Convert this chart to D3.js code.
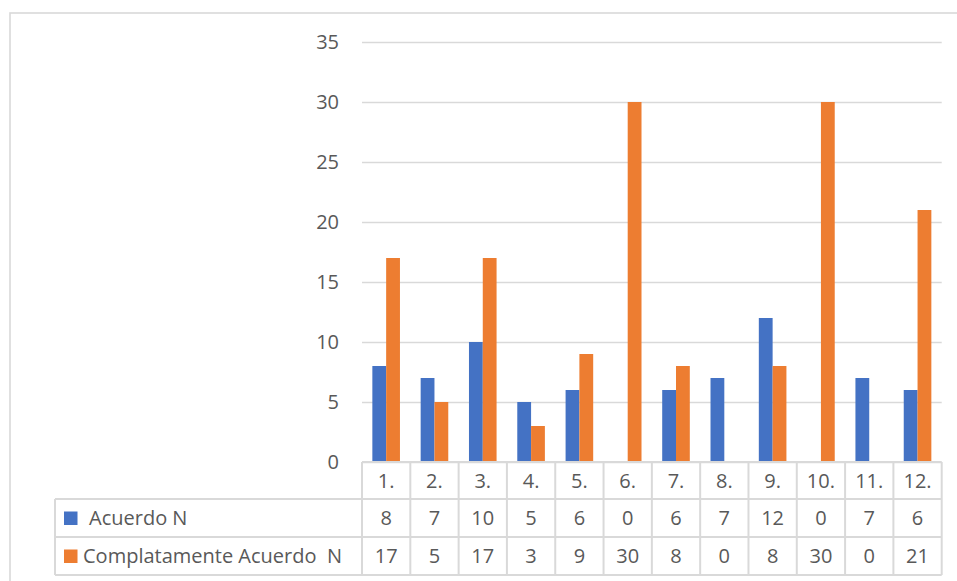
<!DOCTYPE html>
<html>
<head>
<meta charset="utf-8">
<script src="https://cdn.jsdelivr.net/npm/d3@7"></script>
<style>
  html, body { margin: 0; padding: 0; background: #fff; }
  svg { display: block; }
  text { font-family: "Open Sans", Lato, sans-serif; fill: #595959; }
</style>
</head>
<body>
<svg id="chart" width="957" height="581"></svg>
<script>
// Item labels along the category axis
const categories = ["1.", "2.", "3.", "4.", "5.", "6.", "7.", "8.", "9.", "10.", "11.", "12."];
// Series names and counts per item
const seriesNames = ["Acuerdo N", "Complatamente Acuerdo  N"];
const acuerdo = [8, 7, 10, 5, 6, 0, 6, 7, 12, 0, 7, 6];
const completamente = [17, 5, 17, 3, 9, 30, 8, 0, 8, 30, 0, 21];
const yTicks = [0, 5, 10, 15, 20, 25, 30, 35];
const colors = ["#4472C4", "#ED7D31"];

const series = [acuerdo, completamente];

const svg = d3.select("#chart");
const gridColor = "#d9d9d9";
const fontSize = 20;

// Outer chart frame
svg.append("rect")
  .attr("x", 10).attr("y", 13)
  .attr("width", 980).attr("height", 600)
  .attr("fill", "none")
  .attr("stroke", gridColor)
  .attr("stroke-width", 1.6);

const plotLeft = 362, plotRight = 941.7, plotTop = 42, plotBottom = 462;

const x = d3.scaleBand().domain(categories).range([plotLeft, plotRight]).paddingInner(0).paddingOuter(0);
const x1 = d3.scaleBand().domain([0, 1]).range([0, x.bandwidth()]).paddingInner(0).paddingOuter(0.75);
const y = d3.scaleLinear().domain([0, 35]).range([plotBottom, plotTop]);

// Horizontal gridlines and value labels on the left axis
const yAxis = d3.axisLeft(y).tickValues(yTicks).tickSize(-(plotRight - plotLeft)).tickPadding(23).tickFormat(d3.format("d"));
const yG = svg.append("g").attr("transform", `translate(${plotLeft},0)`).call(yAxis);
yG.select(".domain").remove();
yG.selectAll(".tick line").attr("stroke", gridColor).attr("stroke-width", 1.3);
yG.selectAll(".tick text")
  .attr("font-size", fontSize)
  .style("font-family", '"Open Sans", Lato, sans-serif')
  .attr("fill", "#595959");

// Bars
const groups = svg.append("g").selectAll("g")
  .data(categories)
  .join("g")
  .attr("transform", d => `translate(${x(d)},0)`);

groups.selectAll("rect")
  .data((d, i) => series.map((s, k) => ({ k, v: s[i] })))
  .join("rect")
  .attr("x", d => x1(d.k))
  .attr("width", x1.bandwidth())
  .attr("y", d => y(d.v))
  .attr("height", d => y(0) - y(d.v))
  .attr("fill", d => colors[d.k]);

// Data table under the plot
const rowTop = [462, 499, 537, 575];
const tableLeft = 55;
const t = svg.append("g");

// horizontal rules
t.append("line").attr("x1", plotLeft).attr("x2", plotRight).attr("y1", rowTop[0]).attr("y2", rowTop[0]);
[1, 2, 3].forEach(r => {
  t.append("line").attr("x1", tableLeft).attr("x2", plotRight).attr("y1", rowTop[r]).attr("y2", rowTop[r]);
});
// vertical rules
const bounds = categories.map(c => x(c)).concat([plotRight]);
bounds.forEach(bx => {
  t.append("line").attr("x1", bx).attr("x2", bx).attr("y1", rowTop[0]).attr("y2", rowTop[3]);
});
t.append("line").attr("x1", tableLeft).attr("x2", tableLeft).attr("y1", rowTop[1]).attr("y2", rowTop[3]);
t.selectAll("line").attr("stroke", gridColor).attr("stroke-width", 2);

// category header cells
t.selectAll("text.cat")
  .data(categories)
  .join("text")
  .attr("class", "cat")
  .attr("x", d => x(d) + x.bandwidth() / 2)
  .attr("y", (rowTop[0] + rowTop[1]) / 2)
  .attr("dy", "0.35em")
  .attr("text-anchor", "middle")
  .attr("font-size", fontSize)
  .text(d => d);

// value cells
series.forEach((s, k) => {
  const cy = (rowTop[k + 1] + rowTop[k + 2]) / 2;
  t.selectAll(`text.val${k}`)
    .data(s)
    .join("text")
    .attr("class", `val${k}`)
    .attr("x", (d, i) => x(categories[i]) + x.bandwidth() / 2)
    .attr("y", cy)
    .attr("dy", "0.35em")
    .attr("text-anchor", "middle")
    .attr("font-size", fontSize)
    .text(d => d);

  // legend key and series name
  t.append("rect")
    .attr("x", 64).attr("y", cy - 6.5)
    .attr("width", 13.5).attr("height", 13.5)
    .attr("fill", colors[k]);
  t.append("text")
    .attr("x", k === 0 ? 89 : 83)
    .attr("y", cy)
    .attr("dy", "0.35em")
    .attr("font-size", fontSize)
    .style("white-space", "pre")
    .text(seriesNames[k]);
});
</script>
</body>
</html>
